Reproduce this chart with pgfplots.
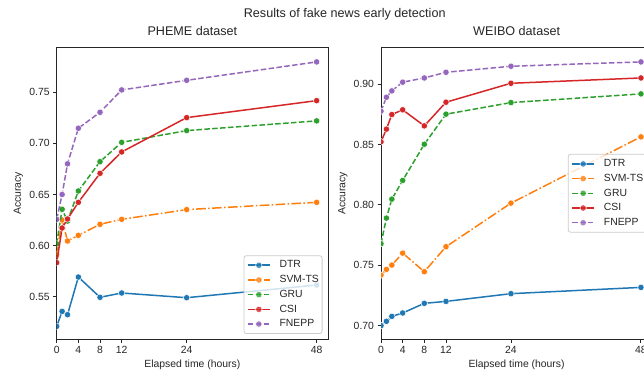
\documentclass[border=0pt]{standalone}
\usepackage{pgfplots}
\pgfplotsset{compat=1.18}
\usepackage{fontspec}
\setmainfont{Liberation Sans}
\definecolor{c1}{HTML}{1F77B4}
\definecolor{c2}{HTML}{FF7F0E}
\definecolor{c3}{HTML}{2CA02C}
\definecolor{c4}{HTML}{D62728}
\definecolor{c5}{HTML}{9467BD}
\definecolor{txt}{HTML}{262626}
\definecolor{lg}{HTML}{CCCCCC}
\newcommand{\tfont}{\fontsize{10.4bp}{12bp}\selectfont}
\newcommand{\Tfont}{\fontsize{12.6bp}{14bp}\selectfont}
\pgfplotsset{
  myaxis/.style={
    scale only axis, width=271.3bp, height=292bp,
    xmin=0, xmax=50.1,
    xtick={0,4,8,12,24,48},
    axis line style={draw=txt, line width=0.9bp},
    tick align=outside, major tick length=3.5bp,
    tick style={draw=txt, line width=0.9bp},
    xtick pos=bottom, ytick pos=left,
    ticklabel style={font=\tfont, text=txt},
    /pgf/number format/assume math mode=true,
    yticklabel style={/pgf/number format/.cd, fixed, fixed zerofill, precision=2},
    label style={font=\tfont, text=txt},
    xlabel style={at={(axis description cs:0.5,-0.0966)}, anchor=base},
    ylabel style={at={(axis description cs:-0.1316,0.5)}, anchor=base, rotate=0},
    title style={font=\Tfont, text=txt, at={(axis description cs:0.5,1)}, anchor=base, yshift=6.3bp},
    xlabel={Elapsed time (hours)}, ylabel={Accuracy},
    clip marker paths=true,
    legend cell align=left,
    legend image code/.code={\draw[mark repeat=2,mark phase=2,##1,line width=1.5bp] plot coordinates {(0bp,0bp)(11bp,0bp)(22bp,0bp)};},
    legend style={draw=lg, line width=0.8bp, rounded corners=2.5bp, fill=white, fill opacity=0.8, text opacity=1,
      font=\tfont, text=txt, inner xsep=3.2bp, inner ysep=4.8bp, row sep=5.2bp, column sep=9bp,
      nodes={inner sep=0pt, text height=7.5bp, text depth=2bp}},
    every axis plot/.append style={line width=1.5bp, mark=*, mark size=3.2bp},
  },
  s1/.style={c1, solid, mark options={solid, fill=c1, draw=white, line width=0.5bp}},
  s2/.style={c2, dash pattern=on 9.6bp off 2.4bp on 1.5bp off 2.4bp, mark options={solid, fill=c2, draw=white, line width=0.5bp}},
  s3/.style={c3, dash pattern=on 5.5bp off 2.4bp, mark options={solid, fill=c3, draw=white, line width=0.5bp}},
  s4/.style={c4, solid, mark options={solid, fill=c4, draw=white, line width=0.5bp}},
  s5/.style={c5, dash pattern=on 5.5bp off 2.4bp, mark options={solid, fill=c5, draw=white, line width=0.5bp}},
}
\begin{document}
\begin{tikzpicture}
\path[use as bounding box] (0,0) rectangle (644bp,374bp);
\clip (0,0) rectangle (644bp,374bp);
\fill[white] (0,0) rectangle (644bp,374bp);
\node[anchor=base, font=\Tfont, text=txt] at (344.7bp,356.5bp) {Results of fake news early detection};
\begin{axis}[myaxis, at={(56.7bp,34.7bp)}, anchor=south west,
  ymin=0.5083, ymax=0.794, ytick={0.55,0.60,0.65,0.70,0.75},
  title={PHEME dataset},
  legend style={at={(1,0)}, anchor=south east, xshift=-5.5bp, yshift=5.3bp}]
\addplot[s1] coordinates {(0,0.521)(1,0.5356)(2,0.5324)(4,0.5692)(8,0.5494)(12,0.5536)(24,0.549)(48,0.5614)};
\addplot[s2] coordinates {(0,0.591)(1,0.625)(2,0.6045)(4,0.610)(8,0.6208)(12,0.6257)(24,0.6352)(48,0.6423)};
\addplot[s3] coordinates {(0,0.6017)(1,0.6355)(2,0.624)(4,0.6534)(8,0.6821)(12,0.701)(24,0.7125)(48,0.722)};
\addplot[s4] coordinates {(0,0.5833)(1,0.6172)(2,0.626)(4,0.6423)(8,0.6707)(12,0.6916)(24,0.7252)(48,0.7418)};
\addplot[s5] coordinates {(0,0.6257)(1,0.65)(2,0.680)(4,0.7148)(8,0.7304)(12,0.7523)(24,0.7617)(48,0.7797)};
\legend{DTR,SVM-TS,GRU,CSI,FNEPP}
\end{axis}
\begin{axis}[myaxis, at={(381bp,34.7bp)}, anchor=south west,
  ymin=0.6887, ymax=0.9306, ytick={0.70,0.75,0.80,0.85,0.90},
  title={WEIBO dataset},
  legend style={at={(1,0.5)}, anchor=east, xshift=-5.5bp}]
\addplot[s1] coordinates {(0,0.70)(1,0.7036)(2,0.7077)(4,0.7105)(8,0.7185)(12,0.7201)(24,0.7265)(48,0.7317)};
\addplot[s2] coordinates {(0,0.7419)(1,0.7466)(2,0.7502)(4,0.7601)(8,0.7447)(12,0.7654)(24,0.8015)(48,0.8564)};
\addplot[s3] coordinates {(0,0.7679)(1,0.7891)(2,0.8048)(4,0.8203)(8,0.8503)(12,0.8752)(24,0.8848)(48,0.892)};
\addplot[s4] coordinates {(0,0.8523)(1,0.8628)(2,0.8749)(4,0.8788)(8,0.8655)(12,0.8851)(24,0.9008)(48,0.9052)};
\addplot[s5] coordinates {(0,0.8777)(1,0.8892)(2,0.8945)(4,0.9017)(8,0.9052)(12,0.9099)(24,0.9149)(48,0.9185)};
\legend{DTR,SVM-TS,GRU,CSI,FNEPP}
\end{axis}
\end{tikzpicture}
\end{document}
